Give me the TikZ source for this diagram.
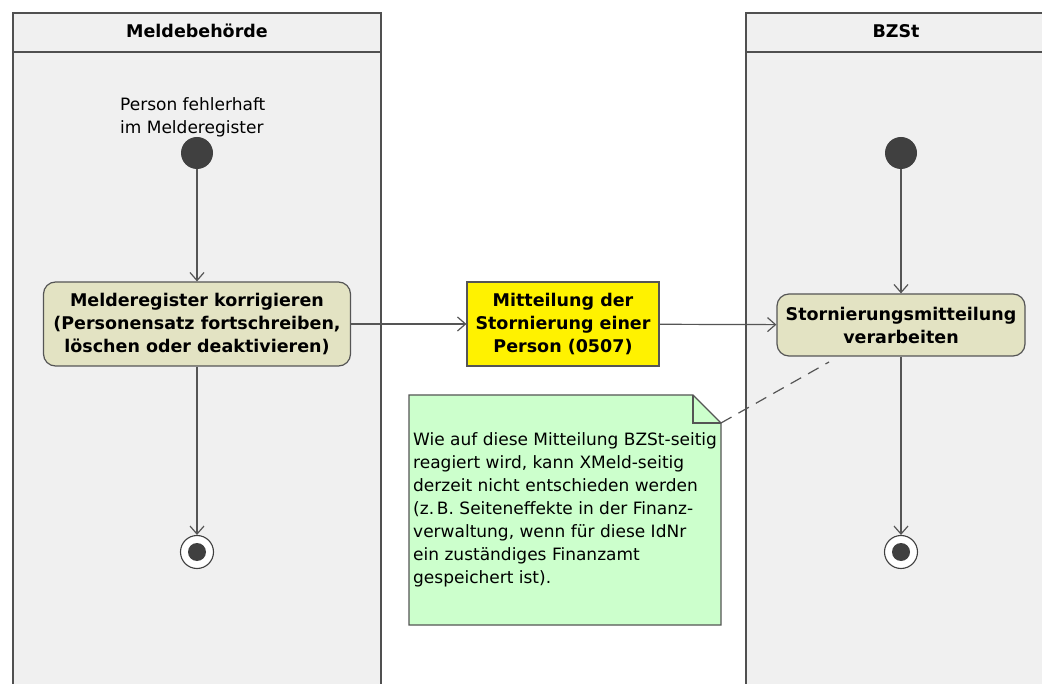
\documentclass[tikz,border=0pt]{standalone}
\usepackage{fontspec}
\setmainfont{DejaVu Sans}
\usetikzlibrary{arrows.meta,positioning}
\definecolor{lanefill}{HTML}{F0F0F0}
\definecolor{laneline}{HTML}{505050}
\definecolor{actfill}{HTML}{E3E3C3}
\definecolor{notefill}{HTML}{CCFFCC}
\definecolor{edgecol}{HTML}{555555}
\definecolor{dotcol}{HTML}{404040}
\tikzset{
  lane/.style={draw=laneline,line width=2pt,fill=lanefill},
  boldtxt/.style={font=\fontsize{17.5}{23}\selectfont\bfseries},
  action/.style={draw=edgecol,line width=1.2pt,fill=actfill,rounded corners=12pt,
    align=center,boldtxt,inner sep=0pt},
  objbox/.style={draw=edgecol,line width=1.2pt,fill=yellow,
    align=center,boldtxt,inner sep=0pt},
  startnode/.style={circle,fill=dotcol,minimum size=32pt,inner sep=0pt},
  endnode/.style={circle,draw=black!75,line width=1.1pt,fill=white,minimum size=33pt,inner sep=0pt,
    path picture={\fill[dotcol] (path picture bounding box.center) circle (9pt);}},
  flow/.style={draw=edgecol,line width=1.2pt,-{Straight Barb[length=8pt,width=14pt,line width=1.2pt]}},
  notelink/.style={draw=edgecol,line width=1.2pt,dash pattern=on 12pt off 8pt},
  plain/.style={font=\fontsize{17}{23}\selectfont,align=left,inner sep=0pt},
}
\begin{document}
\begin{tikzpicture}[x=1pt,y=-1pt]
\useasboundingbox (0,0) rectangle (1042,684);
\fill[white] (0,0) rectangle (1042,684);
\clip (0,0) rectangle (1042,684);
% lanes
\path[lane] (13,13) rectangle (381,720);
\draw[laneline,line width=2pt] (13,52) -- (381,52);
\node[boldtxt] (h1) at (197,31) {Meldebehörde};
\path[lane] (746,13) rectangle (1060,720);
\draw[laneline,line width=2pt] (746,52) -- (1060,52);
\node[boldtxt] (h2) at (896,31) {BZSt};
% left lane
\node[plain,anchor=north west] (lbl) at (120,97) {Person fehlerhaft\\im Melderegister};
\node[startnode] (s1) at (197,153) {};
\node[action,minimum width=307pt,minimum height=84pt] (a1) at (197,324)
  {Melderegister korrigieren\\(Personensatz fortschreiben,\\löschen oder deaktivieren)};
\node[endnode] (e1) at (197,552) {};
% object
\node[objbox,minimum width=192pt,minimum height=84pt] (obj) at (563,324)
  {Mitteilung der\\Stornierung einer\\Person (0507)};
% right lane
\node[startnode] (s2) at (901,153) {};
\node[action,minimum width=248pt,minimum height=62pt] (a2) at (901,325)
  {Stornierungsmitteilung\\verarbeiten};
\node[endnode] (e2) at (901,552) {};
% note
\coordinate (nF2) at (721,423);
\fill[notefill] (409,395) -- (693,395) -- (721,423) -- (721,625) -- (409,625) -- cycle;
\draw[edgecol,line width=1.2pt] (409,395) -- (693,395) -- (721,423) -- (721,625) -- (409,625) -- cycle;
\draw[edgecol,line width=1.2pt] (693,395) -- (693,423) -- (721,423);
\node[plain,anchor=north west] (ntext) at (413,432)
  {Wie auf diese Mitteilung BZSt-seitig\\reagiert wird, kann XMeld-seitig\\derzeit nicht entschieden werden\\(z.\,B. Seiteneffekte in der Finanz-\\verwaltung, wenn für diese IdNr\\ein zuständiges Finanzamt\\gespeichert ist).};
\coordinate (dend) at (829,362);
% edges
\draw[flow] (s1) -- (a1);
\draw[flow] (a1) -- (e1);
\draw[flow] (a1) -- (obj);
\draw[flow] (obj) -- (a2);
\draw[flow] (s2) -- (a2);
\draw[flow] (a2) -- (e2);
\draw[notelink] (nF2) -- (dend);
\end{tikzpicture}
\end{document}
